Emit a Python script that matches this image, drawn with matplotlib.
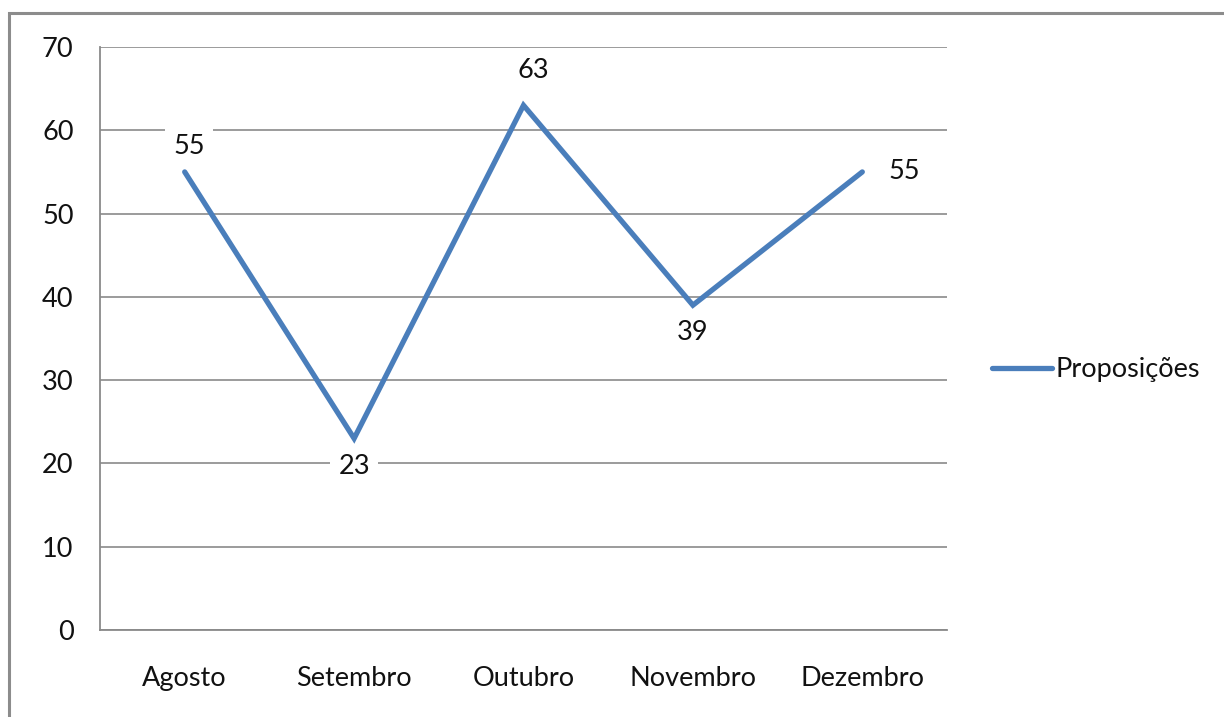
import matplotlib
matplotlib.use("Agg")
import matplotlib.pyplot as plt
from matplotlib.patches import Rectangle

months = ["Agosto", "Setembro", "Outubro", "Novembro", "Dezembro"]
proposicoes = [55, 23, 63, 39, 55]
series_name = "Proposições"
y_ticks = [0, 10, 20, 30, 40, 50, 60, 70]

# label offsets (points) relative to each data point
label_offsets = [(3, 18), (0, -20), (7, 25), (0, -20), (30, 0)]

plt.rcParams["font.family"] = ["Lato", "DejaVu Sans"]
FS = 19.5
GRID = "#8a8a8a"
LINE = "#4a7ebb"
TEXT = "#111111"

fig = plt.figure(figsize=(12.24, 7.17), dpi=100)
ax = fig.add_axes([100 / 1224, 1 - 630 / 717, (947 - 100) / 1224, (630 - 47) / 717])

x = list(range(len(months)))
line, = ax.plot(x, proposicoes, color=LINE, lw=3.8, solid_capstyle="round",
                solid_joinstyle="miter", label=series_name, zorder=3)

for xi, v, (dx, dy) in zip(x, proposicoes, label_offsets):
    ax.annotate(str(v), (xi, v), xytext=(dx, dy), textcoords="offset points",
                ha="center", va="center", fontsize=FS, color=TEXT,
                bbox=dict(boxstyle="square,pad=0.3", fc="white", ec="none"),
                zorder=4)

ax.set_xlim(-0.5, len(months) - 0.5)
ax.set_ylim(0, 70)
ax.set_yticks(y_ticks)
ax.set_xticks(x)
ax.set_xticklabels(months)
ax.tick_params(axis="both", length=0, labelsize=FS, labelcolor=TEXT)
ax.tick_params(axis="y", pad=19)
ax.tick_params(axis="x", pad=26)

ax.grid(axis="y", color=GRID, lw=1.2, zorder=1)
ax.set_axisbelow(True)
for side in ("top", "right"):
    ax.spines[side].set_visible(False)
for side in ("left", "bottom"):
    ax.spines[side].set_color(GRID)
    ax.spines[side].set_linewidth(1.3)

fig.legend(handles=[line], loc="center left", bbox_to_anchor=(992 / 1224, 1 - 370 / 717),
           frameon=False, fontsize=FS, handlelength=2.2, handletextpad=0.15,
           borderaxespad=0, borderpad=0, labelcolor=TEXT)

# outer chart frame (extends past the right and bottom edges)
fig.patches.append(Rectangle((9 / 1224, -0.05), 1.1, 1 - 13 / 717 + 0.05,
                             transform=fig.transFigure, fill=False,
                             ec="#8c8c8c", lw=2.2, zorder=0))

fig.savefig("out.png", dpi=100, facecolor="white")
